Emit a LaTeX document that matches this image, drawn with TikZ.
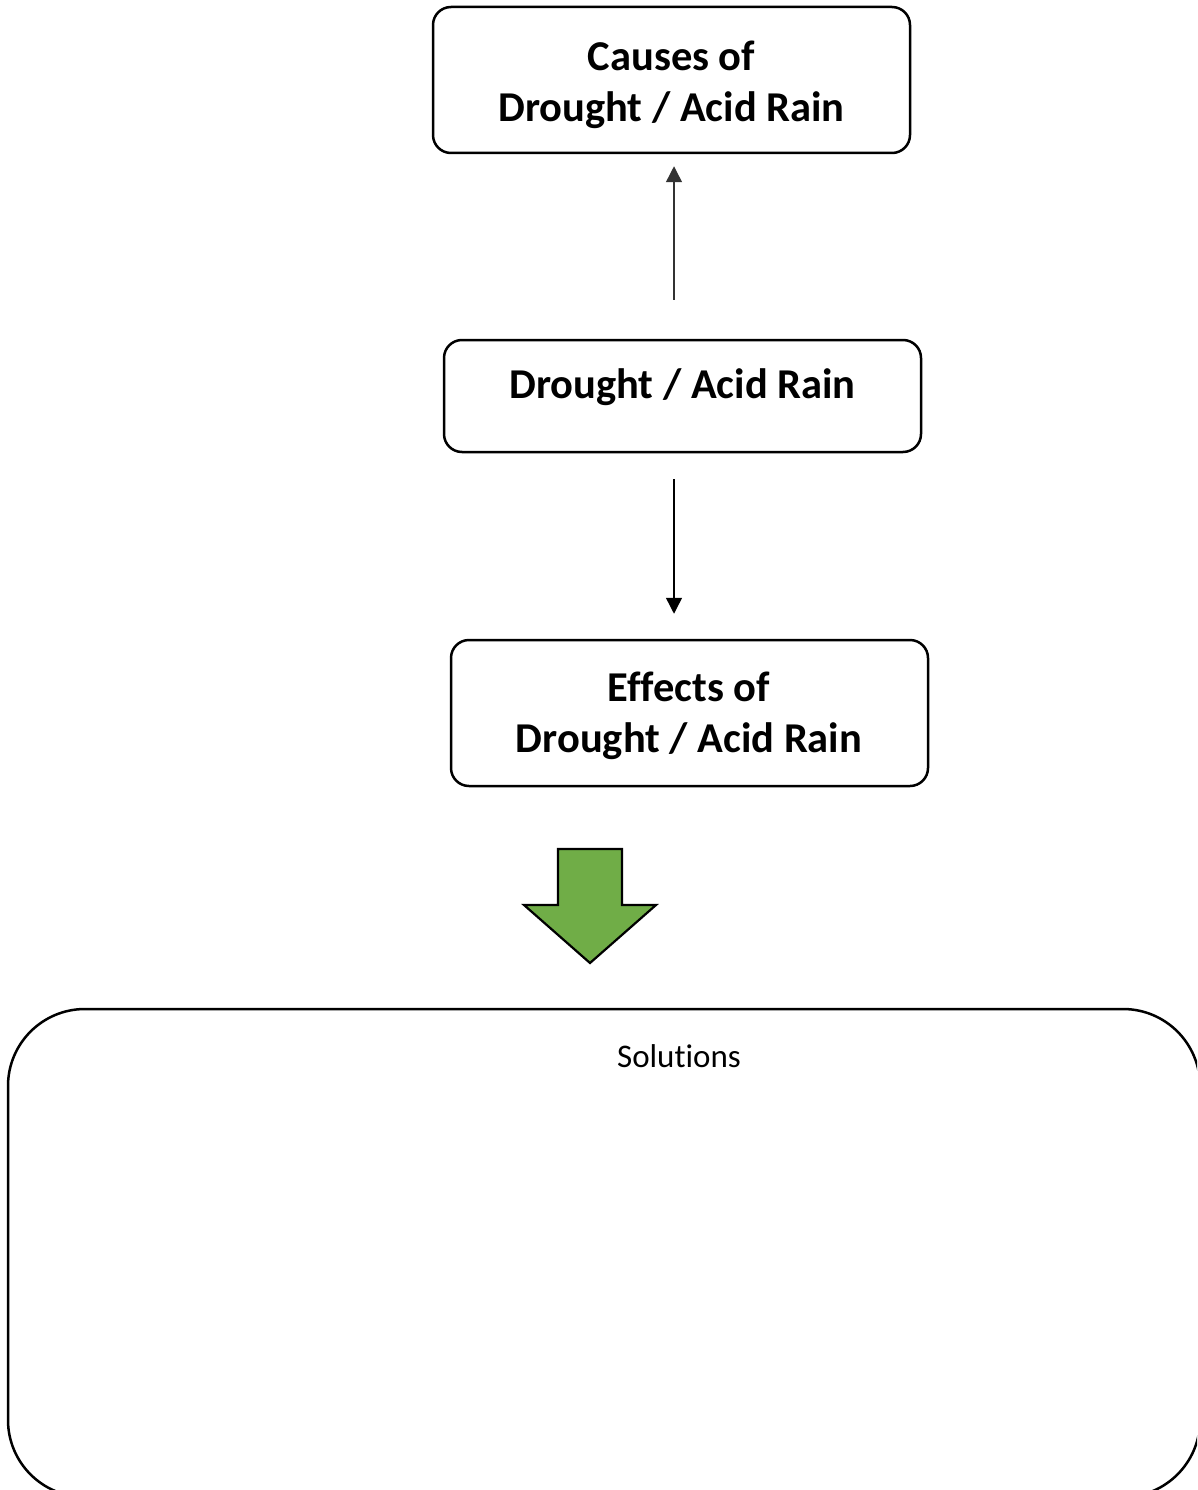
\documentclass[tikz,border=0pt]{standalone}
\usepackage{fontspec}
\setmainfont[Ligatures=NoCommon]{Carlito}
\usetikzlibrary{arrows.meta}
\definecolor{arrowgreen}{HTML}{70AD47}
\tikzset{
  box/.style={draw=black, line width=2.5pt, rounded corners=18pt, inner sep=0pt},
  boxtext/.style={inner sep=0pt, align=center, font=\fontsize{42.5}{51}\selectfont\bfseries},
  thinarrow/.style={line width=1.4pt, -{Triangle[width=16pt,length=16pt]}},
  bigbox/.style={draw=black, line width=2.5pt, rounded corners=77pt, inner sep=0pt},
  blockarrow/.style={draw=black, line width=2.2pt, fill=arrowgreen, line join=miter}
}
\begin{document}
\begin{tikzpicture}[x=1pt,y=-1pt]
\useasboundingbox (0,0) rectangle (1197,1490);
\clip (0,0) rectangle (1197,1490);
\node[box, minimum width=477pt, minimum height=146pt] (causes) at (671.5,80) {};
\node[boxtext] (causestext) at (671.5,85) {Causes of\\Drought / Acid Rain};
\node[box, minimum width=477pt, minimum height=112pt] (mid) at (682.5,396) {};
\node[boxtext] (midtext) at (682.5,387) {Drought / Acid Rain};
\node[box, minimum width=477pt, minimum height=146pt] (effects) at (689.5,713) {};
\node[boxtext] (effectstext) at (689,715.5) {Effects of\\Drought / Acid Rain};
\coordinate (ax) at (674,0);
\draw[thinarrow, draw=black!80, shorten <=39pt, shorten >=12pt] (mid.north -| ax) -- (causes.south -| ax);
\draw[thinarrow, shorten <=26pt, shorten >=25pt] (mid.south -| ax) -- (effects.north -| ax);
\draw[blockarrow] (558,849) -- (622,849) -- (622,905) -- (656,905) -- (590,963) -- (524,905) -- (558,905) -- cycle;
\node[bigbox, minimum width=1192pt, minimum height=488pt] (sol) at (604,1253) {};
\node[font=\fontsize{33}{40}\selectfont] (soltext) at (679,1056) {Solutions};
\end{tikzpicture}
\end{document}
